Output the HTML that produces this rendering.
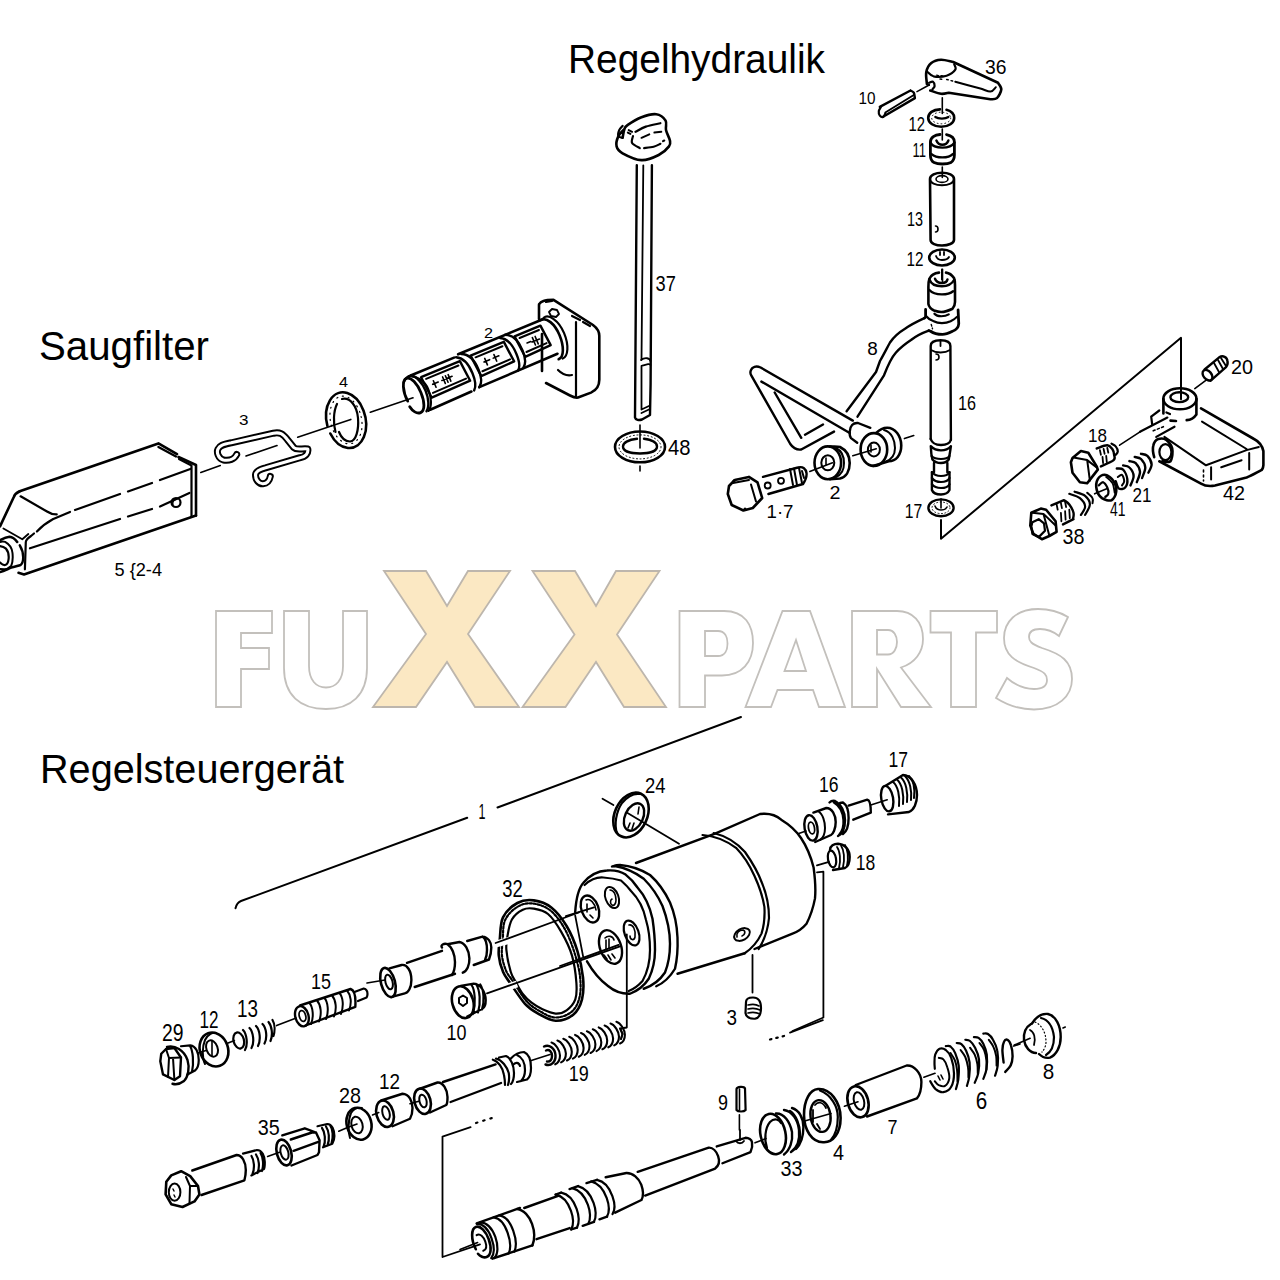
<!DOCTYPE html>
<html><head><meta charset="utf-8">
<style>
html,body{margin:0;padding:0;background:#fff;width:1280px;height:1280px;overflow:hidden}
svg{display:block}
.t{font-family:"Liberation Sans",sans-serif;font-size:40px;fill:#000;stroke:none}
.n{font-family:"Liberation Sans",sans-serif;font-size:20px;fill:#000;stroke:none}
</style></head><body>
<svg width="1280" height="1280" viewBox="0 0 1280 1280">
<!-- WATERMARK -->
<g id="wm" fill="none" stroke="#c3c0bc" stroke-width="1.8" stroke-linejoin="miter">
<path d="M216,611H272V633H241V648H269V669H241V707H216Z"/>
<path d="M284,611H309V666C309,680 316,687.5 326,687.5C336,687.5 343,680 343,666V611H367V668C367,695 351,709 326,709C300,709 284,695 284,668Z"/>
<path fill="#fbe8c3" stroke="#bdb6ad" d="M384,571H426L447,606L468,571H510L468,634L519,707H475L447,662L416,707H373L426,634Z"/>
<path fill="#fbe8c3" stroke="#bdb6ad" d="M532.5,571H575L596,606L616,571H659.5L617,634.5L666,707H624L596,662L565.5,707H522.5L574.5,634.5Z"/>
<path d="M679.5,611H724C745,611 753,625 753,643C753,662 742,675.5 722,675.5H705V707H679.5ZM705,631V656H718C725,656 727.5,650 727.5,643.5C727.5,637 725,631 718,631Z"/>
<path d="M745.5,707L782.5,611H810L845,707H819L813,690H777.5L771,707ZM796,640L784.5,671H806Z"/>
<path d="M852,611H897C913,611 923,622 923,639C923,652 915,663 901,667.5L931,707H901L877,669V707H852ZM877,630V654.5H888C894,654.5 897,648 897,642C897,636 894,630 888,630Z"/>
<path d="M930.5,611H997V632.5H976V707H951V632.5H930.5Z"/>
<path d="M1068,617C1058,611 1048,609 1038,609C1016,609 1004,622 1004,638C1004,655 1015,662 1034,668C1045,672 1047,675 1047,680C1047,686 1042,689 1034,689C1024,689 1015,685 1007,678L996,698C1007,705 1020,709.5 1034,709.5C1058,709.5 1072,696 1072,679C1072,661 1061,654 1042,648C1031,644 1029,641 1029,637C1029,632 1033,629 1040,629C1046,629 1054,632 1059,636Z"/>
</g>
<!-- TITLES -->
<text class="t" x="568" y="73" textLength="257" lengthAdjust="spacingAndGlyphs">Regelhydraulik</text>
<text class="t" x="39" y="360" textLength="170" lengthAdjust="spacingAndGlyphs">Saugfilter</text>
<text class="t" x="40" y="783" textLength="304" lengthAdjust="spacingAndGlyphs">Regelsteuergerät</text>
<!-- DRAWING -->
<g id="draw" fill="none" stroke="#000" stroke-width="2.2" stroke-linecap="round" stroke-linejoin="round">
<!--SAUG-->
<!-- SAUGFILTER housing 5 -->
<g id="housing">
<path stroke-width="2.6" d="M19.7,491.3L158.4,443.4L177,454.2M178.5,457L196,465V515.6"/>
<path d="M158.4,447L176,456.5M179,459L191.5,465.5V516"/>
<path stroke-width="2.6" d="M19.7,491.3C16,493 14.5,495 13.7,497.2L0,526.4"/>
<path d="M20.6,496.3L47,511.5C50,513.5 53,514.5 56.7,514.4"/>
<path d="M53.3,519L70,512M75,510L120,494M128,491.5L152,483M160,480L190.3,469"/>
<path d="M52.4,519.5C46,523 41,527 36.9,531.5M34,533.5L31,536C28,538 26,540 25.8,542L24.9,569.3"/>
<path stroke-width="1.8" d="M3.4,528.5L22.3,539.3L28.35,534"/>
<path d="M30,548.3L120,519M128,516.5L152,509M160,506.5L189.4,493"/>
<path stroke-width="2.6" d="M0,540.1C3,538.5 6,537 9.45,536.7C13,537 15.5,539.5 17.2,541.9"/>
<path stroke-width="2.4" d="M19.8,545.3C22,549 23.2,553 23.2,557.3C23.2,561 22,564 20.6,565C17,566 14,567 11.2,567.6C8,569 5,570.5 3.4,571L0,572"/>
<path stroke-width="2" d="M0,541.9C2,541.5 3.5,541.5 5.15,541.9C9,544 12,548 12.5,553C13,558 12.5,563 11.2,566C9,568 6.5,569.3 4.3,569.3L0,569"/>
<path stroke-width="2.2" d="M0,546.2C2,546.5 4,547 6,548.7C8,551 9,555 8.6,559C8.3,562 7,564.5 5.15,565C3,565.5 1.5,564 0,562.5"/>
<path stroke-width="2.6" d="M18.5,572.8L24,574.5L196,515.6"/>
<ellipse cx="176" cy="502.5" rx="4.5" ry="4.5"/>
<path stroke-width="1.4" d="M173,505C172,502 174,499 177,499"/>
</g>
<text class="n" x="114.5" y="575.6" textLength="47.5" lengthAdjust="spacingAndGlyphs" style="font-size:18px">5 {2-4</text>
<!-- axis line -->
<path stroke-width="1.6" d="M200.8,472.5L220.3,465.5M246,456L277,445.6M297.7,437.3L350.8,419.4M370.3,412.3L413,397.8"/>
<!-- clip 3 -->
<path stroke-width="7" d="M236.7,454.5C234.4,459.2 229,461 223.4,460C218,458.5 216.5,452 218,449C219.5,446 222,444.5 231.25,442.8L273.4,433.2C279.7,432 282.8,433.4 287.5,439.7L293.75,447.5C296.9,450.6 303,448 307.8,449C308.5,453.5 305.5,457 300,457.7L265.6,467.8C259,469.4 255.7,472 255.5,475C255.5,480 259,484 263,483.8C267,483.5 269.5,480.5 270.3,476.4"/>
<path stroke="#fff" stroke-width="3.1" d="M236.7,454.5C234.4,459.2 229,461 223.4,460C218,458.5 216.5,452 218,449C219.5,446 222,444.5 231.25,442.8L273.4,433.2C279.7,432 282.8,433.4 287.5,439.7L293.75,447.5C296.9,450.6 303,448 307.8,449C308.5,453.5 305.5,457 300,457.7L265.6,467.8C259,469.4 255.7,472 255.5,475C255.5,480 259,484 263,483.8C267,483.5 269.5,480.5 270.3,476.4"/>
<text class="n" x="239" y="425" textLength="9.5" lengthAdjust="spacingAndGlyphs" style="font-size:15.5px">3</text>
<!-- ring 4 -->
<path stroke-width="2.6" d="M330.3,433.5A19.5,28.2 -13 1 0 327.4,425.8"/>
<path stroke-width="2.2" d="M335.5,432C333,423 333.5,411 337,404M342,399C350,397 357,406 358,418C359,430 356,441 350,441.5C345,441.5 341,437 339,432"/>
<ellipse cx="346" cy="420" rx="15.5" ry="24.2" transform="rotate(-13 346 420)" stroke-width="1.2" stroke-dasharray="1 5"/>
<text class="n" x="339" y="386.5" textLength="9" lengthAdjust="spacingAndGlyphs" style="font-size:15.5px">4</text>
<!-- filter 2 -->
<g id="filter">
<g transform="translate(413.5 395.5) rotate(-22.5)">
<path stroke-width="2.8" d="M-7.5,3C-8.5,-8 -5,-18.5 0,-18.5C5,-18.5 8,-9 8,0C8,10 5,18.5 0,18.5C-4,18.5 -7,14 -7.8,9"/>
<path stroke-width="2.4" d="M-4,-16C-1,-19 3,-20 5,-19.5C10,-17 13,-8 13,0C13,9 10,17 6,19.5"/>
<path stroke-width="2.2" d="M3,-19.5C9,-18 16,-10 16,0C16,10 12,18 8,20"/>
<path stroke-width="2.6" d="M5,-19.5L52,-19.5M57,-21L150,-21M10,19.5L55,18.5M64,17.5L149,16.5"/>
<path stroke-width="2.4" d="M14,-14L56,-14L58,8L16,9Z"/>
<path stroke-width="2" d="M18,-10.5L53,-10.5M19,5L55,4.5"/>
<path stroke-width="2.4" d="M54,-19C60,-16 63,-8 63,2C63,10 61,16 58,18.5M60,-20C67,-17 70,-9 70,1C70,9 68,15 64,17.5"/>
<path stroke-width="2.4" d="M68,-15L104,-15L106,7L70,8Z"/>
<path stroke-width="2" d="M72,-11.5L101,-11.5M73,4L103,3.5"/>
<path stroke-width="2.4" d="M102,-20C108,-17 111,-9 111,1C111,9 109,15 106,17M108,-21C115,-18 118,-10 118,0C118,8 116,14 112,16.5"/>
<path stroke-width="2.4" d="M116,-16L144,-16L146,6L118,7Z"/>
<path stroke-width="2" d="M120,-12.5L141,-12.5M121,3L143,2.5"/>
<path stroke-width="1.6" d="M24,-6V1M22,-3L28,-3M34,-6V1M37,-6V1M40,-6V1M32,-3L43,-3M80,-7V0M78,-4L84,-4M88,-4L94,-4M90,-7V0M125,-5L129,-5M132,-8V0M135,-8V0M130,-4L138,-4"/>
<path stroke-width="2.6" d="M146,-21C153,-22 158,-12 158,0C158,12 154,22 148,22"/>
<path stroke-width="2.2" d="M150,-22C156,-24 163,-14 163,0C163,13 158,23 152,23"/>
</g>
<path stroke-width="2.6" d="M539,304.4C541,301 544,300 553.5,299.9L593,325C597,328 599.3,331 599.3,335.8V379.8C599.3,386 597,390 591,392.6L578,397.5C575,398 573,397 570,395.5L546,383M542,371V334M539,319V304.4"/>
<path d="M546,302L552,301M576,322V396M572,316L580,320M583,322L590,326"/>
<path d="M558,370C562,374 567,376 572,375"/>
<path stroke-width="1.8" d="M549,312L552,309L557,310L559,314L556,317L551,316Z"/>
</g>
<text class="n" x="484" y="338" textLength="9" lengthAdjust="spacingAndGlyphs" style="font-size:15.5px">2</text>

<!--/SAUG-->
<!--HYD-->
<!-- dipstick 37 -->
<path stroke-width="2.6" d="M624.4,129.2C623.4,130.4 619.6,133.2 618.4,136.1C617.1,138.9 615.9,143.5 616.6,146.4C617.3,149.3 618.5,151.0 622.6,153.3C626.8,155.6 635.5,159.9 641.5,160.1C647.6,160.4 654.1,157.3 658.7,155.0C663.3,152.7 667.2,148.8 669.0,146.4C670.9,144.0 670.4,143.1 669.9,140.4C669.4,137.7 666.7,133.4 666.0,130.1C665.3,126.8 667.2,123.3 665.6,120.6C664.0,118.0 660.2,114.7 656.2,114.2C652.1,113.6 646.3,115.4 641.5,117.2C636.8,119.0 630.7,122.9 627.8,124.9C624.9,126.9 625.2,127.1 624.4,129.2C623.5,131.4 622.9,136.4 622.6,137.8"/>
<path stroke-width="2.2" d="M622.6,125.8C622.1,126.5 619.9,128.4 619.2,130.1C618.5,131.8 617.8,134.8 618.4,136.1C618.9,137.4 621.9,137.5 622.6,137.8"/>
<path stroke-width="2.2" d="M635.5,131.8C637.3,130.9 641.7,128.1 645.8,126.6C650.0,125.2 658.0,123.8 660.4,123.2"/>
<path stroke-width="2.0" d="M641.5,137.8L649.3,134.4M654.4,132.6L661.3,131.8M628.7,130.1L632.1,131.8M627.8,132.6L630.4,133.9M663.0,141.2L664.3,140.5"/>
<path stroke-width="2.2" d="M633.0,136.1C632.8,137.2 631.0,141.0 632.1,143.0C633.2,145.0 638.5,147.3 639.8,148.1M644.1,148.1C645.7,147.9 650.9,147.5 653.6,146.8C656.3,146.1 659.3,144.3 660.4,143.8"/>
<path stroke-width="2.4" d="M636.8,165.3L635,417.5C635.5,420 639,420.5 642,419.5L650,415L650.6,384L651.9,165.3"/>
<path stroke-width="1.8" d="M643.3,165.3L641.5,360M641.5,366V409.5M641,360C645,357 650,358 650.5,361M641.5,366C645,365 650,363 650.5,365M641.5,409.5L650,405.5M641.5,413L650,409"/>
<text class="n" x="655.5" y="291.3" textLength="20.3" lengthAdjust="spacingAndGlyphs" style="font-size:21.5px">37</text>
<!-- ring 48 -->
<path stroke-width="1.6" d="M640,425V448M640,466V471"/>
<ellipse cx="640" cy="446.9" rx="25" ry="15.4" stroke-width="2.6"/>
<path stroke-width="2.4" d="M637,438.8C628,439.5 623,443 623,446.5C623,451 630,453.5 640,453.5C650,453.5 657,451 657,446.5C657,443 652,440 644,438.8"/>
<ellipse cx="640" cy="446.9" rx="21" ry="12" stroke-width="1" stroke-dasharray="1 2.6"/>
<text class="n" x="668" y="454.5" textLength="22.5" lengthAdjust="spacingAndGlyphs" style="font-size:21.5px">48</text>
<!-- lever 36 -->
<path stroke-width="2.6" d="M926.9,83.9C926.8,81.9 925.6,75.3 926.3,71.9C927.1,68.4 928.8,65.1 931.3,63.1C933.7,61.1 937.5,60.0 941.1,59.8C944.8,59.7 951.1,61.7 953.2,62.0M953.2,62.0L998.0,82.8M998.0,82.8C998.6,83.9 1001.5,86.8 1001.3,89.4C1001.1,91.9 998.7,96.5 996.9,98.1C995.1,99.8 991.4,99.1 990.4,99.2M990.4,99.2L948.8,92.7M948.8,92.7C947.5,92.9 944.2,94.1 941.1,93.8C938.0,93.4 932.0,91.0 930.2,90.5"/>
<path stroke-width="2.2" d="M927.4,71.9C928.4,72.6 930.3,75.6 933.5,76.3C936.6,76.9 942.9,76.8 946.6,75.7C950.2,74.6 954.1,71.6 955.3,69.7C956.6,67.8 954.4,65.1 954.2,64.2"/>
<path stroke-width="2.0" d="M955.3,81.7C959.4,82.8 973.6,86.7 979.4,88.3C985.2,89.9 987.6,91.8 990.4,91.6C993.1,91.4 994.9,87.9 995.8,87.2"/>
<path stroke-width="1.4" d="M936.7,75.2L938.4,75.7M941.1,75.7L942.8,76.0M940.0,79.0L941.7,79.3M946.6,79.5L948.2,79.8M951.0,80.6L952.6,81.0"/>
<path stroke-width="2.2" d="M929.1,82.8C929.7,82.6 932.0,81.2 932.9,81.7C933.8,82.3 934.6,84.8 934.6,86.1C934.5,87.4 932.7,88.8 932.4,89.4"/>
<path stroke-width="2.0" d="M926.9,83.9L929.1,85.0"/>
<path stroke-width="2.4" d="M879.8,106.9L910.5,90.5M910.5,90.5C911.0,90.8 913.0,91.4 913.8,92.7C914.5,93.9 914.7,97.2 914.9,98.1M914.9,98.1L883.1,116.7"/>
<path stroke-width="2.2" d="M880.9,106.9C880.6,107.6 878.9,109.8 878.8,111.3C878.6,112.7 879.1,114.7 879.8,115.6C880.6,116.6 882.2,117.3 883.1,117.0C884.0,116.6 885.0,114.0 885.3,113.5"/>
<path stroke-width="1.8" d="M885.3,112.4L913.8,94.9"/>
<path stroke-width="1.6" d="M917.0,91.6L929.1,85.0"/>
<path stroke-width="1.6" d="M942.3,97.8V113.4M942.3,129V140M942.3,167V177.5"/>
<text class="n" x="858.5" y="104.3" textLength="17" lengthAdjust="spacingAndGlyphs" style="font-size:17px">10</text>
<text class="n" x="985" y="73.8" textLength="21.5" lengthAdjust="spacingAndGlyphs" style="font-size:19.5px">36</text>
<!-- washer 12 top -->
<path stroke-width="2.6" d="M940,109.4C933,109.6 928.2,113 928.2,118C928.2,123 934,126.8 941.2,126.8C948.5,126.8 954.2,123 954.2,118C954.2,114 951,111 946.5,109.8"/>
<path stroke-width="2.2" d="M935.3,117C937,118.2 939.5,118.6 941.9,118.6C944.5,118.6 947,118 948.4,117"/>
<ellipse cx="941.2" cy="118" rx="9.5" ry="5.8" stroke-width="1" stroke-dasharray="0.8 3"/>
<text class="n" x="908.5" y="130.8" textLength="16.5" lengthAdjust="spacingAndGlyphs" style="font-size:20px">12</text>
<!-- bushing 11 -->
<path stroke-width="2.8" d="M940,134.5C935,134.8 930.4,137.5 930.4,142V155C930.4,159 932,161.5 934,162.5C936.5,163.7 939.5,164 942.4,164C946,164 949,163.5 951,162.5C953,161 954.4,158 954.4,155V142C954.4,138 951,135.5 946.5,134.6"/>
<path stroke-width="2.4" d="M930.4,142.6C932,145.5 937,147.6 942.4,147.6C948,147.6 952.5,145.5 954.4,142.6M931.5,154.1C934,156.4 938,157.4 942.4,157.4C947,157.4 950.5,156.4 952.8,154.1"/>
<path stroke-width="2.4" d="M936.4,140.5C937.5,143.3 939.7,144.8 942.4,144.8C945,144.8 947.4,143.3 948.4,140.5"/>
<text class="n" x="912.5" y="157.2" textLength="13.5" lengthAdjust="spacingAndGlyphs" style="font-size:20px">11</text>
<!-- tube 13 -->
<path stroke-width="2.6" d="M930,179C930,175 935.5,172.8 942,172.8C948.5,172.8 954,175 954,179V240C954,243.5 948,245.5 942,245.5C936,245.5 930.6,243.5 930.6,240Z"/>
<path stroke-width="2" d="M930,179C930,183 935.5,185.2 942,185.2C948.5,185.2 954,183 954,179"/>
<ellipse cx="942" cy="179" rx="6" ry="3.4" stroke-width="1.6"/>
<path stroke-width="1.6" d="M935.5,226C937,226 938,227.5 938,229C938,231 937,232 935.5,232"/>
<text class="n" x="907" y="226.3" textLength="16" lengthAdjust="spacingAndGlyphs" style="font-size:20px">13</text>
<!-- washer 12 lower -->
<ellipse cx="942" cy="257.5" rx="12.8" ry="8" stroke-width="2.6"/>
<path stroke-width="1.8" d="M936,256C937,259 939,260 942,260C946,260 948,259 949,257M940,252L940,255M944,252L944,255"/>
<text class="n" x="906.5" y="265.8" textLength="17" lengthAdjust="spacingAndGlyphs" style="font-size:20px">12</text>
<path stroke-width="1.6" d="M942.5,269.4V283"/>
<!-- bushing -->
<path stroke-width="2.6" d="M939,272.6C935,273 931,275 929.4,278.75C928.6,281 928.4,284 928.4,287V304C929,307 931,309 934,310.5C937,311.5 939,312 941.25,312C945,312 949,310.5 952.5,308.75C954,307 955,305 955,302V285C955,281 954.4,279 954,278C952,275 949,273 946,272.6"/>
<path stroke-width="2.4" d="M929.4,279.5C931,284 936,286.25 941.9,286.25C947,286.25 952,284 954.4,279.5M929.4,290C932,293 937,294.4 941.9,294.4C947,294.4 951,293 953.1,291.25"/>
<path stroke-width="2.4" d="M935,278.75C936,281.5 938.5,283 941.9,283C945,283 947,281.5 947.5,279.4"/>
<path stroke-width="1.8" d="M941.9,269.4V279.4"/>
<!-- lever 8 hub -->
<path stroke-width="2.8" d="M925.6,309.4V316.9C925,318 924.5,318 924.4,318.1M958.1,310L958.75,323.75C958.5,327 956,330 952.5,331.25C949,333 945,334.4 942.5,334.4C937,334.4 933,333 930.6,331.25L928.75,330.6"/>
<path stroke-width="2.2" d="M926.25,316.25C928,318.5 931,320.5 933.75,321.25C936,322.5 939,323.1 941.9,323.1C945,323.1 948,322.5 950.6,321.25C953,320 955.5,318.5 956.9,316.9"/>
<path stroke-width="2.2" d="M934.4,313.75C936,315.5 938.5,316.25 941.25,316.25C944,316.25 947,315.5 948.75,314.4"/>
<path stroke-width="1.4" stroke-dasharray="1.8 2" d="M931.25,324.4L932.5,328.8"/>
<!-- lever 8 arm -->
<path stroke-width="2.4" d="M924.4,318.1C916,322 910,325 905,328.75C898,333 893,338 890,342.5C887,348 884,354 880,361L876,372L846.6,411.25"/>
<path stroke-width="2.4" d="M928.75,330.6C922,333 916,336 911,340C905,344 900,348 896,352.5C891,358 888,365 884,375.3L857.5,416.7"/>
<!-- triangle loop -->
<path stroke-width="2.4" d="M852.8,420.6L760.6,367.5C756,365.5 752,367 751,370C750,372 750.5,374 751.25,375.3L790.3,444C793,448 797,450 801.25,449.5L834,431.6"/>
<path stroke-width="2.4" d="M761.4,381.6L849.7,433M774.7,392.5L801.25,437.8M805,434.7L823,424.5"/>
<!-- lever end boss -->
<path stroke-width="2.4" d="M870.3,427.8L858,423C853,422.5 850,426 849.7,431.6C849.5,435 850,437 851,438.1L857.2,442.8"/>
<!-- roller right -->
<ellipse cx="873.9" cy="449.5" rx="13.3" ry="16.4" stroke-width="2.6"/>
<path stroke-width="2.6" d="M876.25,433C880,429 884,427.7 887.2,427.7C895,427.7 901.25,436 901.25,445.6C901.25,455 896,461.25 888.75,461.25L873,465.9"/>
<path stroke-width="2" d="M884,430C892,432 895,441 895,448C895,455 891,460 885,462"/>
<ellipse cx="873.9" cy="449.5" rx="6" ry="7" stroke-width="2"/>
<path stroke-width="1.6" d="M852.8,455.8L876.25,448.75M904.4,438.6L913.75,435.5M871,445V452"/>
<!-- roller 2 -->
<ellipse cx="827.8" cy="462.8" rx="13.3" ry="16.4" stroke-width="2.6"/>
<path stroke-width="2.6" d="M830,446.6C834,446.4 838,446.4 840,447C846,450 849.7,456 849.7,463C849.7,471 846,477 840,478.5L830,479.2"/>
<path stroke-width="2" d="M836,448C842,451 844,457 844,463C844,470 841,475 836,477"/>
<ellipse cx="827.8" cy="462.8" rx="6.5" ry="7.5" stroke-width="2"/>
<path stroke-width="1.6" d="M809.8,471.4L832.5,462.8M826,458V465"/>
<!-- bolt 1.7 -->
<path stroke-width="2.6" d="M734.8,480L748.9,476.9L757.5,482.3L762.2,498L752.8,508L743.4,510.5L731.7,505L727.8,494L729,486Z"/>
<path stroke-width="2" d="M751,484.5L756,501.5M733,483L749,480"/><circle cx="734" cy="481" r="0.8" stroke-width="1.5"/><circle cx="745" cy="509" r="0.8" stroke-width="1.5"/>
<path stroke-width="2.4" d="M763,476.9L798,467.5M768.4,494L803,484M798,467.5C803,466 806,469 806.5,473C807,477 805,481 803,484"/>
<path stroke-width="2" d="M790,469L793,485M794,468.5L797,485M799,468L802,483M802,471L804,478"/>
<circle cx="767.7" cy="485.5" r="3" stroke-width="1.8"/>
<circle cx="781" cy="480.8" r="3" stroke-width="1.8"/>
<text class="n" x="829.5" y="499" textLength="11" lengthAdjust="spacingAndGlyphs" style="font-size:18.5px">2</text>
<text class="n" x="766.5" y="517.7" textLength="27" lengthAdjust="spacingAndGlyphs" style="font-size:19px">1·7</text>
<text class="n" x="867.3" y="355.2" textLength="10.5" lengthAdjust="spacingAndGlyphs" style="font-size:18px">8</text>
<!-- rod 16 -->
<path stroke-width="2.4" d="M930.7,346C930.7,342 935,340.3 940.5,340.3C946,340.3 950.4,342 950.4,346L950.9,439.8M930.7,346V439"/>
<path stroke-width="1.8" d="M931,350C934,352 937,352.5 940.5,352.5C944,352.5 947,352 950,350M940.5,341V346"/>
<path stroke-width="1.6" d="M936,354C938,354 939,355.5 939,357C939,359 938,360 936,360"/>
<path stroke-width="2.4" d="M930.7,439C932,443 936,445 941,445C946,445 950,443 950.9,439.8"/>
<path stroke-width="2.4" d="M930.8,446.2C931,452 931.5,456 932.4,459.5C935,462.5 938,463 941,463C944,463 947,462 948.75,459.5C949.5,455 950.5,450 950.9,446.2M930.8,446.2C934,449.5 937,450.4 941,450.4C945,450.4 948,449.5 950.9,446.2"/>
<path stroke-width="2.2" d="M931.5,456C934,458.5 937,459 941,459C945,459 948,458.5 949.5,456"/>
<path stroke-width="2.4" d="M934,463V472.2M947.35,463V472.2M931.9,472.2V490C933,493 937,494.5 941,494.5C945,494.5 948,493 949.5,490V472.2"/>
<path stroke-width="2.2" d="M931.9,472.2C934,475 937,476 941,476C945,476 948,475 949.5,472.2M931.9,478C934,481 937,482 941,482C945,482 948,481 949.5,478M931.9,484.15C934,487 937,488 941,488C945,488 948,487 949.5,484.15"/>
<text class="n" x="958" y="410.3" textLength="18" lengthAdjust="spacingAndGlyphs" style="font-size:20px">16</text>
<!-- washer 17 -->
<ellipse cx="941" cy="507.8" rx="12.6" ry="8.4" stroke-width="2.4"/>
<path stroke-width="1.6" d="M935,506C936,509 938,510 941,510C944,510 946,509 947,507M941,499V508"/>
<ellipse cx="941" cy="507.8" rx="9" ry="5.8" stroke-width="0.9" stroke-dasharray="1 2.4"/>
<text class="n" x="904.8" y="518.2" textLength="17.5" lengthAdjust="spacingAndGlyphs" style="font-size:20px">17</text>
<path stroke-width="2" d="M941,520V538.8L1181,337.8V399.3"/>

<!--/HYD-->
<!--P42-->
<!-- part 42 block -->
<path stroke-width="2.6" d="M1163.4,399V413.5M1196.4,399V414.5C1194,418 1190,420 1186.7,420.1M1170.5,420.6L1176,421"/>
<ellipse cx="1179.9" cy="398.8" rx="16.6" ry="10.5" stroke-width="2.6"/>
<ellipse cx="1179.3" cy="397.2" rx="8.9" ry="4.9" stroke-width="2.4"/>
<path stroke-width="2.6" d="M1201,408.4L1254,439C1258,441 1262,445 1263.4,451.1V465C1263,469 1262,470 1260.9,470.4C1256,473 1251,476 1246.6,477.5L1215,485.5C1210,486.5 1205,486 1201,483.6L1159.3,461.25"/>
<path stroke-width="2" d="M1164.4,436.9L1206,465.3L1246.6,450.1L1258.8,447M1202,421.6L1246.6,449M1249.2,453V469.4M1211.1,467.3V479.5M1221.25,467.3L1241.6,460.2"/>
<path stroke-width="1.6" stroke-dasharray="2 3" d="M1203.5,470V481"/>
<path stroke-width="2.6" d="M1154.2,457.2C1153,453 1152.5,449 1153.2,446C1154,442 1156,439.5 1158.3,438.9C1162,438 1164.5,438.5 1166.4,440C1170,443 1172.5,447 1172.5,451.1C1172.5,456 1172,459 1170.5,461.25C1168,462.5 1165,462 1162.3,461.25"/>
<ellipse cx="1165.4" cy="452.1" rx="6" ry="8" stroke-width="2.2"/>
<path stroke-width="2.2" d="M1151.2,416.6L1159.3,410.5M1151.2,416.6L1152.2,424.7M1140,431.8L1167.4,417.6M1156.25,436.9L1174.5,426.7M1166.4,412.5L1170,414"/>
<path stroke-width="1.6" stroke-dasharray="2 2.5" d="M1153.2,430.8L1163.4,426.7"/>
<path stroke-width="1.6" d="M1194.8,388.6L1206.5,379.8M1140,431.8L1119.6,445.2"/>
<!-- pin 20 -->
<path stroke-width="2.4" d="M1204.6,369.5L1219.2,357.3C1223,355 1227,357 1227.5,361C1228,364 1227,366 1226,367.1L1210.4,380.8"/>
<ellipse cx="1207.5" cy="375.2" rx="4" ry="6" transform="rotate(-40 1207.5 375.2)" stroke-width="2.4"/>
<path stroke-width="1.8" d="M1214,363L1219,372M1218,360L1223,369M1221,358L1226,366"/>
<text class="n" x="1231" y="374.3" textLength="22" lengthAdjust="spacingAndGlyphs" style="font-size:20px">20</text>
<!-- bolt 18 -->
<path stroke-width="2.6" d="M1072.5,458.0L1080.9,451.1L1088.3,452.7L1096.7,466.4L1097.8,469.6L1090.4,479.1L1087.2,483.3L1079.9,482.2L1072.5,472.7L1070.9,462.2L1072.5,458.0"/>
<path stroke-width="2.0" d="M1073.5,457.4L1087.2,460.1L1096.7,467.5M1087.2,460.1L1089.9,480.7"/>
<path stroke-width="2.4" d="M1096.7,448.5C1098.5,448.0 1104.6,445.1 1107.3,445.3C1109.9,445.5 1111.4,448.0 1112.6,449.5C1113.7,451.1 1114.0,453.1 1114.1,454.8C1114.3,456.6 1115.8,458.2 1113.6,460.1C1111.4,462.0 1103.1,465.4 1100.9,466.4"/>
<path stroke-width="1.8" d="M1099.9,450.1L1100.9,454.8M1103.6,449.0L1104.6,453.8M1107.3,448.0L1108.3,452.7M1102.5,456.9L1103.1,463.2M1106.2,455.9L1106.8,462.2"/>
<path stroke-width="2.2" d="M1111.5,443.7C1112.2,444.2 1114.7,445.1 1115.7,446.4C1116.8,447.7 1117.8,450.2 1117.8,451.6C1117.8,453.1 1116.1,454.3 1115.7,454.8"/>
<path stroke-width="2.4" d="M1116.8,468.5C1117.8,468.7 1121.3,467.8 1123.1,469.6C1124.9,471.3 1127.0,476.1 1127.3,479.1C1127.7,482.1 1126.6,485.9 1125.2,487.5C1123.8,489.1 1120.5,489.6 1118.9,488.6C1117.3,487.5 1116.2,482.4 1115.7,481.2"/>
<path stroke-width="2.0" d="M1117.8,477.0C1118.5,476.6 1121.0,474.1 1122.0,474.9C1123.1,475.6 1124.2,479.4 1124.2,481.2C1124.2,482.9 1122.4,484.7 1122.0,485.4"/>
<path stroke-width="2.4" d="M1123.1,465.4C1124.2,465.7 1127.7,465.7 1129.4,467.5C1131.2,469.2 1133.5,472.9 1133.6,475.9C1133.8,478.9 1131.0,483.8 1130.5,485.4"/>
<path stroke-width="2.4" d="M1129.4,461.1C1130.5,461.5 1134.0,461.5 1135.8,463.2C1137.5,465.0 1139.8,468.5 1140.0,471.7C1140.2,474.9 1137.3,480.5 1136.8,482.2"/>
<path stroke-width="2.4" d="M1134.7,456.9C1135.8,457.3 1139.3,457.3 1141.0,459.0C1142.8,460.8 1145.1,464.3 1145.3,467.5C1145.4,470.6 1142.6,476.3 1142.1,478.0"/>
<path stroke-width="2.4" d="M1141.0,453.8C1142.1,454.1 1145.6,454.1 1147.4,455.9C1149.1,457.6 1151.4,461.5 1151.6,464.3C1151.8,467.1 1148.9,471.3 1148.4,472.7"/>
<path stroke-width="2.6" d="M1097.8,479.1C1099.2,476.6 1102.5,474.5 1105.2,474.9C1107.8,475.2 1111.8,478.4 1113.6,481.2C1115.5,484.0 1116.6,488.6 1116.2,491.7C1115.9,494.9 1113.9,499.1 1111.5,500.2C1109.1,501.2 1104.5,499.8 1102.0,498.1C1099.5,496.3 1097.4,492.8 1096.7,489.6C1096.0,486.5 1096.4,481.5 1097.8,479.1Z"/>
<path stroke-width="2.2" d="M1098.8,485.4C1099.5,484.9 1101.7,481.9 1103.1,482.2C1104.5,482.6 1106.4,485.6 1107.3,487.5C1108.2,489.4 1108.7,492.3 1108.3,493.8C1108.0,495.4 1105.7,496.5 1105.2,497.0"/>
<path stroke-width="1.8" d="M1106.2,477.0C1107.3,478.0 1111.1,480.7 1112.6,483.3C1114.0,485.9 1114.3,491.2 1114.7,492.8"/>
<path stroke-width="2.6" d="M1031.3,512.8L1040.8,508.6L1046.1,509.7L1055.6,521.3L1056.6,531.8L1049.3,536.0L1041.9,539.2L1033.4,533.9L1030.3,525.5L1031.3,512.8"/>
<path stroke-width="2.0" d="M1032.4,512.8L1043.5,513.9L1055.6,525.5M1043.5,513.9L1049.3,535.5"/>
<path stroke-width="2.2" d="M1032.4,522.3L1038.7,519.2L1044.0,523.4L1045.0,530.8L1038.7,537.1L1032.4,533.9L1031.3,526.5L1032.4,522.3"/>
<path stroke-width="2.4" d="M1051.4,505.4L1064.0,500.2M1064.0,500.2C1064.9,500.9 1067.7,502.3 1069.3,504.4C1070.9,506.5 1072.9,510.4 1073.5,512.8C1074.1,515.3 1073.1,518.1 1073.0,519.2M1073.5,519.2L1063.0,524.4"/>
<path stroke-width="1.8" d="M1056.6,504.4L1057.7,509.7M1060.9,502.8L1061.9,508.1M1065.1,501.8L1066.1,507.0M1060.9,512.8L1061.4,521.3M1065.1,511.2L1065.6,519.7M1069.3,509.7L1069.8,518.1"/>
<path stroke-width="2.2" d="M1069.3,493.8C1071.1,494.5 1077.2,495.9 1079.9,498.1C1082.5,500.2 1085.0,503.7 1085.1,506.5C1085.3,509.3 1081.6,513.5 1080.9,514.9"/>
<path stroke-width="2.2" d="M1074.6,491.7C1076.3,492.4 1082.6,493.8 1085.1,495.9C1087.7,498.1 1089.9,501.2 1089.9,504.4C1089.9,507.6 1085.9,513.2 1085.1,514.9"/>
<path stroke-width="2.0" d="M1087.2,492.8C1088.1,493.7 1091.6,496.3 1092.5,498.1C1093.4,499.8 1092.5,502.5 1092.5,503.3"/>
<path stroke-width="1.6" d="M1094.6,493.8L1107.3,488.6"/>
<text class="n" x="1088" y="441.5" textLength="19" lengthAdjust="spacingAndGlyphs" style="font-size:19px">18</text>
<text class="n" x="1132.5" y="501.5" textLength="19" lengthAdjust="spacingAndGlyphs" style="font-size:20px">21</text>
<text class="n" x="1110" y="516.2" textLength="15.5" lengthAdjust="spacingAndGlyphs" style="font-size:21px">41</text>
<text class="n" x="1062.5" y="543.6" textLength="22" lengthAdjust="spacingAndGlyphs" style="font-size:22.5px">38</text>
<text class="n" x="1223" y="500.3" textLength="22" lengthAdjust="spacingAndGlyphs" style="font-size:20px">42</text>

<!--/P42-->
<!--LOW1-->
<!-- bracket 1 -->
<path stroke-width="2" d="M235.5,908.2C236.5,904 238.5,902 241,901L467.2,817.8M497.5,807.5L741,717"/>
<text class="n" x="478.5" y="818.8" textLength="7" lengthAdjust="spacingAndGlyphs" style="font-size:22px">1</text>
<!-- washer 24 -->
<ellipse cx="631" cy="815" rx="16.2" ry="23.5" transform="rotate(25 631 815)" stroke-width="2.6"/>
<path stroke-width="2.2" d="M617,833C614,825 616,812 622,803C627,797 634,793 640,794"/>
<ellipse cx="634" cy="817" rx="9" ry="14.5" transform="rotate(25 634 817)" stroke-width="2.4"/>
<path stroke-width="1.6" d="M639,807L638,814M630,823L628,828M634,823L632,829"/>
<path stroke-width="1.8" d="M602.5,798.8L613.4,805M626.7,812.5L679,843.75"/>
<text class="n" x="645" y="792.8" textLength="20.5" lengthAdjust="spacingAndGlyphs" style="font-size:22.5px">24</text>
<!-- main cylinder -->
<g id="cyl">
<path stroke-width="2.4" d="M575.2,912C576,900 578,889 583.4,882.8C589,876 598,871 606.9,870.5C613,870 620,871 625.6,874.6C630,878 634,882 637.5,887.5C645,896 650,907 652.5,918.75C654,929 655,940 655,950C655,962 652,972 648.75,978.75C644,986 637,991 630,993.75C622,994 614,991 608,986C600,980 592,970 587,961.3"/>
<path stroke-width="2.2" d="M584.6,885C590,880 597,877 603.3,877.5C610,878 616,879 621,880.5C625,884 628,887 631,891C640,900 644,910 646,920C649,930 650,940 650,950C650,962 647,973 642.5,981C638,986 634,989 628.75,991"/>
<path stroke-width="2.4" d="M612,866.5C613,866 614,866 615,866C626,868 636,873 643.75,878.75C652,887 658,896 662.5,906C667,918 670,932 670,943.75C670,955 668,965 665,972.5C660,980 652,986 643.75,988.75"/>
<path stroke-width="2.4" d="M614,866C616,865 618,865 620,865C632,866 642,870 650,875C659,883 665,892 670,902.5C674,912 677,925 677.5,937.5C678,950 677,960 675,968.75C670,977 664,983 656.25,986.25"/>
<path stroke-width="2.4" d="M636,863L715.1,833.7M715.1,833.7L760,814C768,813 776,815 781.2,819.7C790,825 797,832 801,838C807,847 811,857 813.6,867.5C815,878 816,888 815,898.4C813,909 810,917 806.5,923.7C802,929 797,932 792.5,933.6L754.5,949"/>
<path stroke-width="2.4" d="M677.5,973.75L744.7,953.25"/>
<path stroke-width="2.2" d="M702.5,835C716,836 728,842 736,847.8C745,857 750,866 754.5,876C760,888 763,898 764.4,906.9C765,917 764,926 761.5,933.6C757,943 751,949 744.7,953.25"/>
<path stroke-width="2.2" d="M713.7,833C726,836 737,843 745,852C752,862 758,872 762,883C767,895 769,907 769,918C768,929 765,939 758.7,949"/>
<ellipse cx="742" cy="934.5" rx="8.5" ry="5.5" transform="rotate(-30 742 934.5)" stroke-width="2"/>
<path stroke-width="1.6" d="M737,937C736,933 739,930 743,930C746,931 745,935 742,936"/>
<!-- holes -->
<ellipse cx="590" cy="909" rx="8.5" ry="14" transform="rotate(-20 590 909)" stroke-width="2.4"/>
<path stroke-width="1.6" d="M586,900C590,898 595,903 596,910M587,904V912M590,915L593,918"/>
<ellipse cx="612" cy="897.5" rx="6.5" ry="11" transform="rotate(-20 612 897.5)" stroke-width="2"/>
<path stroke-width="1.6" d="M610,890C614,890 616,895 616,900C616,904 614,906 612,905C610,904 610,900 612,899"/>
<ellipse cx="610.5" cy="947" rx="10.5" ry="17.5" transform="rotate(-20 610.5 947)" stroke-width="2.4"/>
<path stroke-width="1.6" d="M605,938C608,935 613,936 614,940M606,940V950M609,939V948M608,955L611,960M612,954L615,958M604,955L607,959"/>
<ellipse cx="631.6" cy="933" rx="7" ry="13" transform="rotate(-20 631.6 933)" stroke-width="2.2"/>
<path stroke-width="1.6" d="M629,925C633,924 636,930 635,937C634,941 630,940 630,936"/>
<path stroke-width="1.8" d="M565.9,916.2L594,907.4M560,966L618.6,944.9M575.2,915.6L583.4,957.8L618.6,944.9M626.8,934.3V1027.5L620.5,1028.5L622.5,1034L621,1039"/>
</g>
<!-- gasket 32 -->
<path stroke-width="2.6" d="M499.8,939.2C500.5,932.8 500.1,923.4 503.0,917.4C505.9,911.4 512.3,905.8 517.4,903.0C522.5,900.2 528.1,899.6 533.8,900.4C539.4,901.1 545.8,903.2 551.3,907.5C556.8,911.8 562.2,918.7 566.6,926.0C571.0,933.3 574.8,942.7 577.5,951.3C580.2,959.9 582.2,969.5 583.0,977.5C583.8,985.5 583.6,993.2 582.0,999.4C580.4,1005.6 577.6,1011.2 573.2,1014.7C568.8,1018.2 561.5,1020.9 555.6,1020.7C549.8,1020.5 543.2,1016.4 538.1,1013.6C533.0,1010.8 529.5,1008.7 525.0,1003.8C520.5,998.9 514.5,989.3 510.8,984.0C507.2,978.7 505.1,976.7 503.1,972.0C501.1,967.3 499.3,961.1 498.8,955.6C498.2,950.1 499.1,945.6 499.8,939.2Z"/>
<path stroke-width="2.2" d="M507.5,936.0C508.4,930.9 509.3,923.9 511.9,919.5C514.4,915.1 519.1,911.5 522.8,909.7C526.4,907.9 529.6,907.9 533.8,908.6C538.0,909.3 543.5,910.2 548.0,914.0C552.5,917.8 557.1,924.7 561.1,931.6C565.1,938.5 569.5,947.0 572.0,955.6C574.5,964.2 575.9,975.7 576.4,983.0C576.9,990.3 576.9,994.9 575.3,999.4C573.7,1003.9 569.9,1007.9 566.6,1010.3C563.3,1012.7 559.6,1013.8 555.6,1013.6C551.6,1013.4 546.5,1011.1 542.5,1009.3C538.5,1007.5 534.9,1005.2 531.6,1002.7C528.3,1000.2 525.4,997.5 522.8,994.0C520.1,990.5 517.7,985.6 515.7,981.9C513.7,978.2 512.4,977.3 510.8,972.0C509.2,966.7 506.9,956.2 506.4,950.2C505.8,944.2 506.6,941.1 507.5,936.0Z"/>
<path stroke-width="2.2" stroke-dasharray="2.2 1.8" d="M502.7,940.7C503.3,934.7 502.5,925.6 505.2,919.9C507.8,914.1 513.8,908.7 518.7,906.1C523.5,903.4 528.9,902.9 534.2,903.7C539.5,904.5 545.6,906.6 550.7,910.7C555.7,914.9 560.7,921.7 564.6,928.6C568.5,935.5 571.7,944.1 574.3,952.1C576.8,960.0 579.1,968.7 580.0,976.2C580.8,983.7 581.0,991.2 579.6,997.1C578.2,1003.1 575.7,1008.5 571.5,1011.9C567.4,1015.3 560.4,1017.8 554.8,1017.5C549.3,1017.2 543.1,1013.1 538.3,1010.3C533.5,1007.5 530.3,1005.4 526.1,1000.7C522.0,996.0 516.7,986.9 513.4,981.9C510.1,977.0 508.1,975.3 506.2,971.0C504.4,966.7 502.6,961.0 502.0,955.9C501.4,950.9 502.2,946.7 502.7,940.7Z"/>
<path stroke="#fff" stroke-width="7" stroke-linecap="butt" d="M496,944L510,940M499,990L517,984"/>
<text class="n" x="502.3" y="897.4" textLength="20.5" lengthAdjust="spacingAndGlyphs" style="font-size:23px">32</text>
<path stroke-width="1.8" d="M495.6,943L578.75,912.5M487,993.4L620,946.4"/>
<!-- spool near 32 -->
<ellipse cx="388" cy="982.5" rx="7" ry="15" transform="rotate(-15 388 982.5)" stroke-width="2.6"/>
<ellipse cx="389" cy="982" rx="3.5" ry="7.5" transform="rotate(-15 389 982)" stroke-width="2"/>
<path stroke-width="2.4" d="M389.5,968.3L401.6,965C407,964 411.4,971 411.4,980C411.4,988 408,993 404.8,993.4L392.8,996.7"/>
<path stroke-width="1.6" d="M367,983L385,980"/>
<path stroke-width="2.4" d="M407,962.8L442,950.8M414.7,987L455,973.75"/>
<path stroke-width="2.4" d="M442,947.5C440,945 444,943 447.5,944.2L459.5,942C465,943 469,950 469.4,958.4C469.6,965 467,971 462.8,972.7M447.5,944.2C452,947 455,955 455,962C455,968 454,972 452,975"/>
<path stroke-width="2.4" d="M467.2,941L482.5,936.6C488,937 491.3,942 491.3,947.5C491.3,953 490,957 489,959.5L473.75,965M482.5,936.6C486,939 487,946 487,950C487,955 486,958 485,960"/>
<!-- plug 10 -->
<ellipse cx="462.8" cy="1002.2" rx="10.5" ry="16.2" transform="rotate(-15 462.8 1002.2)" stroke-width="2.6"/>
<path stroke-width="2.2" d="M460.6,985.8L473.75,983.6C481,984 485.8,993 485.8,1000C485.8,1006 484,1008 482.5,1008.75L467.2,1016.4M471.6,985C475,990 476,1004 473,1014M476,984C480,990 481,1003 478,1012.5M480.3,984.5C484,990 484.5,1002 482,1009.5"/>
<path stroke-width="2" d="M459,998L463,995.5L467,998L467,1003L463,1006L459,1003Z"/>
<text class="n" x="446.5" y="1039.6" textLength="20" lengthAdjust="spacingAndGlyphs" style="font-size:22px">10</text>
<!-- 16/17/18 -->
<ellipse cx="811" cy="827.9" rx="6.4" ry="12.9" transform="rotate(-10 811 827.9)" stroke-width="2.4"/>
<ellipse cx="811.5" cy="828" rx="3" ry="6" transform="rotate(-10 811.5 828)" stroke-width="1.8"/>
<path stroke-width="2.4" d="M813.4,812.6L826.3,808C832,808 835.7,815 835.7,822C835.7,829 833,834 831,835L815.2,842"/>
<path stroke-width="2" d="M818,811C823,814 825,822 825,828C825,834 823,838 820,840"/>
<path stroke-width="2.4" d="M829.5,802.5C831,801 833,800.3 835,801C841,804 845,812 845,820C845,828 842,834 838,836M834,802.5C840,806 843,813 843.5,820C844,827 842,832 839,835M840,803L843,802.5C847,805 848.6,812 848.6,818C848.6,826 846,832 843,834"/>
<path stroke-width="2.4" d="M848.6,805.6L867.3,799.7C870,800 870.8,806 870.8,812.6L853.3,819.7"/>
<path stroke-width="1.6" d="M798,833.7L806,831M870.8,805L887.2,799.7"/>
<ellipse cx="887.2" cy="798.6" rx="5.9" ry="12.9" transform="rotate(-10 887.2 798.6)" stroke-width="2.4"/>
<path stroke-width="2.4" d="M886,785.5L903,775C911,775 917,785 917,795C917,803 914,810 909,812L888,814.4"/>
<path stroke-width="2" d="M893,782C898,786 900,796 899,806M897,779.5C902,784 904,794 903,804M901,777.5C906,782 908,792 907,802M905,776C910,781 912,791 911,800M909,776C914,781 915,790 914,798"/>
<text class="n" x="819" y="792.3" textLength="19.5" lengthAdjust="spacingAndGlyphs" style="font-size:22.5px">16</text>
<text class="n" x="888.6" y="766.6" textLength="19.5" lengthAdjust="spacingAndGlyphs" style="font-size:22.5px">17</text>
<path stroke-width="2.4" d="M830,850C830,846 834,843.7 838,843.7C845,844 849.7,850 849.7,857C849.7,864 847,867 845,868L833,870"/>
<ellipse cx="832" cy="859" rx="4" ry="8.5" transform="rotate(-10 832 859)" stroke-width="2.2"/>
<path stroke-width="1.8" d="M837,847C840,851 841,860 839,868M841,845.5C844,850 845,859 843,867M845,845C848,850 848.5,858 847,866"/>
<text class="n" x="855.8" y="869.7" textLength="19.5" lengthAdjust="spacingAndGlyphs" style="font-size:22.5px">18</text>
<path stroke-width="1.8" d="M817,865.4L829,861.9M817,872.4L823.4,871.7V1017.5L792.5,1031"/>
<path stroke-width="2.2" stroke-dasharray="1.5 5" d="M770,1039.5L786,1035.5"/>
<!-- part 3 -->
<path stroke-width="1.8" d="M752.5,955V992.5"/>
<path stroke-width="2.2" d="M746,1002C746,999 749,997.5 753,997.5C758,997.5 761,1001 761,1008C761,1014 759,1018 755,1018.75C750,1019 746,1017 745.5,1013Z"/>
<path stroke-width="1.6" d="M748,1005C752,1004 756,1004 759,1006M748,1009C752,1008 756,1008 760,1010M748,1013C752,1012 756,1012 760,1014"/>
<text class="n" x="726.5" y="1025.2" textLength="10.5" lengthAdjust="spacingAndGlyphs" style="font-size:22.5px">3</text>

<!--/LOW1-->
<!--LOW2-->
<!-- part 15 -->
<ellipse cx="301.9" cy="1016.25" rx="6.6" ry="10.3" transform="rotate(-15 301.9 1016.25)" stroke-width="2.4"/>
<ellipse cx="302.5" cy="1016" rx="3.2" ry="5.5" transform="rotate(-15 302.5 1016)" stroke-width="1.8"/>
<path stroke-width="2.4" d="M300,1005.5L350.6,989M305.6,1025.5L355.3,1006.9M350.6,989C354,990 356,996 355.3,1006.9"/>
<path stroke-width="2" d="M309.4,1003C313,1007 314,1017 311,1024M317,1000.5C321,1005 322,1014 319,1021.5M324.4,998C328,1002 329,1012 326,1019M332,995.5C336,1000 337,1009 334,1016.5M339.4,993C343,997 344,1006 341,1014M347,990.5C351,995 352,1003 349,1010.5"/>
<path stroke-width="2.2" d="M354.4,992L363.75,988.5C366,989 367.5,991 367.5,994C367.5,996 366.6,997.5 366.6,997.5L358,1001"/>
<path stroke-width="1.6" d="M276.6,1025.6L296.25,1018"/>
<text class="n" x="311" y="989.2" textLength="20" lengthAdjust="spacingAndGlyphs" style="font-size:21.5px">15</text>
<!-- spring 13 -->
<ellipse cx="238.75" cy="1040.5" rx="5.2" ry="8.2" transform="rotate(-15 238.75 1040.5)" stroke-width="2.2"/>
<path stroke-width="2.2" d="M243,1030C247,1034 248,1045 245,1050M249.5,1028C253.5,1032 254.5,1043 251.5,1048M256,1026C260,1030 261,1040 258,1046M262.5,1024C266.5,1028 267.5,1038 264.5,1043.5M268.5,1022C272,1026 273,1035 270.5,1041M272.5,1020C275,1024 275,1031 273.5,1036"/>
<text class="n" x="237" y="1017.2" textLength="21" lengthAdjust="spacingAndGlyphs" style="font-size:23px">13</text>
<!-- washer 12 -->
<ellipse cx="214" cy="1049.5" rx="14" ry="17.3" transform="rotate(-20 214 1049.5)" stroke-width="2.6"/>
<path stroke-width="2" d="M205,1064C202,1058 202,1047 205,1040C208,1034 213,1032 216,1033"/>
<ellipse cx="212" cy="1048.5" rx="5.6" ry="8.4" transform="rotate(-20 212 1048.5)" stroke-width="2"/>
<path stroke-width="1.6" d="M198.75,1052.8L206,1050.5M226.9,1043.4L234.4,1040.6M212,1041V1056"/>
<text class="n" x="199.6" y="1027.7" textLength="19" lengthAdjust="spacingAndGlyphs" style="font-size:23px">12</text>
<!-- plug 29 -->
<path stroke-width="2.4" d="M161.25,1053.75L166,1049L174.4,1048L181,1057.5L180,1076.25L174.4,1080L163,1074.4L160.3,1061.25Z"/>
<path stroke-width="2" d="M166,1049L169,1058L181,1057.5M169,1058L168,1077M174.4,1080L173,1058"/>
<path stroke-width="2.4" d="M167,1047C175,1045 184,1050 187.5,1060C190,1068 188,1077 184,1081C180,1084 175,1084.5 172.5,1083.75"/>
<path stroke-width="2.2" d="M181,1046.25L190.3,1045.3C196,1046 198.75,1053 198.75,1060C198.75,1066 197,1069 195,1070.6L187.5,1074.4M190,1046C193,1051 194,1062 192,1072"/>
<text class="n" x="162" y="1040.8" textLength="21.5" lengthAdjust="spacingAndGlyphs" style="font-size:23px">29</text>
<!-- bolt 35 -->
<path stroke-width="2.6" d="M166.3,1181.7L171.25,1175.4L181.1,1171.2L190.2,1176.1L198,1186L199.4,1194.4L194.5,1201.4L182.5,1207L171.25,1204.2L165.6,1194.4Z"/>
<path stroke-width="2" d="M186,1177L190,1186L189.5,1203M190,1186L198,1186"/>
<ellipse cx="174.6" cy="1192.2" rx="5.8" ry="8.6" stroke-width="2"/>
<path stroke-width="1.4" d="M173,1189L174,1191M174,1195L175,1197"/>
<path stroke-width="2.4" d="M192.3,1170.5L236.6,1155C242,1155 245.8,1162 245.8,1170C245.8,1175 245,1178 244.4,1180.3L201.5,1195"/>
<path stroke-width="2.2" d="M243,1153.6L257,1150C262,1150 264.8,1156 264.8,1162C264.8,1166 264.5,1168 264,1169L251.4,1175.4M251.5,1156C254,1160 255,1168 252.5,1174M256,1154.5C259,1159 260,1167 257.5,1173M260.5,1153C263,1157 264,1165 262,1171"/>
<path stroke-width="1.6" d="M267.6,1156.4L279.5,1152.2"/>
<!-- nut 35 -->
<ellipse cx="284" cy="1152.5" rx="7.2" ry="13.2" transform="rotate(-15 284 1152.5)" stroke-width="2.6"/>
<ellipse cx="284.5" cy="1152.5" rx="3.8" ry="7.4" transform="rotate(-15 284.5 1152.5)" stroke-width="2"/>
<path stroke-width="2.4" d="M282.3,1135.3L304.8,1128.3L316,1132.5L319.6,1140.2L319,1152.2L317.5,1155L291.5,1165.5M290.8,1139.5L311.9,1132.5L316,1132.5M293.6,1150.8L319,1141.6"/>
<path stroke-width="2.2" d="M317.5,1126.2L327.3,1124C332,1124 334.4,1130 334.4,1136C334.4,1140 333,1142.5 332.3,1143.75L323,1147.3M322,1128C325,1132 326,1141 323.5,1147M326,1126.5C329,1131 330,1139 327.5,1145.5M330,1125C333,1129 333.5,1137 331.5,1143.5"/>
<text class="n" x="257.7" y="1135.2" textLength="22" lengthAdjust="spacingAndGlyphs" style="font-size:22px">35</text>
<path stroke-width="1.6" d="M338.75,1131.25L347.5,1127.5"/>
<!-- washer 28 -->
<ellipse cx="359" cy="1123.75" rx="12.3" ry="16.2" transform="rotate(-15 359 1123.75)" stroke-width="2.6"/>
<path stroke-width="2" d="M350,1138C348,1132 348,1120 351,1113C354,1108 358,1107 362,1108"/>
<ellipse cx="357" cy="1125" rx="5.5" ry="8.5" transform="rotate(-15 357 1125)" stroke-width="2"/>
<path stroke-width="1.6" d="M347.5,1127.5L357,1124"/>
<text class="n" x="339" y="1102.7" textLength="22" lengthAdjust="spacingAndGlyphs" style="font-size:22px">28</text>
<path stroke-width="1.6" d="M372.5,1115L378.75,1112.5"/>
<!-- bushing 12 -->
<ellipse cx="385" cy="1113.75" rx="8.5" ry="13.5" transform="rotate(-15 385 1113.75)" stroke-width="2.6"/>
<ellipse cx="386" cy="1113" rx="3.5" ry="7" transform="rotate(-15 386 1113)" stroke-width="2"/>
<path stroke-width="2.4" d="M381.25,1100.5L402.5,1093.75C409,1094 412.5,1101 412.5,1108C412.5,1114 411,1117 410,1118.75L392.5,1126.25"/>
<text class="n" x="379" y="1089.2" textLength="21" lengthAdjust="spacingAndGlyphs" style="font-size:21.5px">12</text>
<path stroke-width="1.6" d="M410,1103.75L418.75,1101.25"/>
<!-- shaft with spring 19 -->
<ellipse cx="422.5" cy="1101.25" rx="8" ry="13" transform="rotate(-15 422.5 1101.25)" stroke-width="2.6"/>
<ellipse cx="423" cy="1101" rx="3.5" ry="6.5" transform="rotate(-15 423 1101)" stroke-width="2"/>
<path stroke-width="2.4" d="M420,1088.75L437.5,1082.5C443,1082 447.5,1090 447.5,1097C447.5,1102 447,1104 446.25,1105L430,1112.5"/>
<path stroke-width="2.4" d="M443,1082L495.6,1064.4M450.6,1102L501,1083"/>
<path stroke-width="2.2" d="M492.8,1059.7C498,1061 503,1068 504,1075C505,1080 505,1084 505,1085M496,1058.5C502,1060 507,1067 508.75,1073C509.5,1078 509,1082 508,1085M499,1057.5L506,1056C511,1058 514,1066 514,1073C514,1079 513,1082 511,1084"/>
<path stroke-width="2.2" d="M510.6,1058.75C515,1054 520,1052 524,1052C529,1054 531,1061 531,1068C531,1074 529,1078 527,1079.5L517,1082M517,1055C522,1057 525,1063 525,1070C525,1076 523,1079 521,1081M513,1065C515,1062 519,1062 520,1066"/>
<path stroke-width="1.6" d="M531.25,1060.6L550,1054.5"/>
<path stroke-width="2.4" d="M544,1046.5C549,1044 555,1048 555.5,1055C556,1062 551,1066.5 545.5,1064.5M546,1050.5C549.5,1049 552,1052 552,1056C552,1060 550,1062 547,1061.5"/>
<path stroke-width="2.1" d="M551.5,1042.5C555.5,1043.5 560.0,1050.5 560.0,1055.5C560.0,1059.5 558.0,1063.0 555.2,1064.3M557.4,1040.6C561.4,1041.6 565.9,1048.6 565.9,1053.6C565.9,1057.6 563.9,1061.1 561.1,1062.4M563.3,1038.7C567.3,1039.7 571.8,1046.7 571.8,1051.7C571.8,1055.7 569.8,1059.2 567.0,1060.5M569.2,1036.8C573.2,1037.8 577.7,1044.8 577.7,1049.8C577.7,1053.8 575.7,1057.3 572.9,1058.6M575.1,1034.9C579.1,1035.9 583.6,1042.9 583.6,1047.9C583.6,1051.9 581.6,1055.4 578.8,1056.7M581.0,1033.1C585.0,1034.1 589.5,1041.1 589.5,1046.1C589.5,1050.1 587.5,1053.6 584.7,1054.9M586.9,1031.2C590.9,1032.2 595.4,1039.2 595.4,1044.2C595.4,1048.2 593.4,1051.7 590.6,1053.0M592.8,1029.3C596.8,1030.3 601.3,1037.3 601.3,1042.3C601.3,1046.3 599.3,1049.8 596.5,1051.1M598.7,1027.4C602.7,1028.4 607.2,1035.4 607.2,1040.4C607.2,1044.4 605.2,1047.9 602.4,1049.2M604.6,1025.5C608.6,1026.5 613.1,1033.5 613.1,1038.5C613.1,1042.5 611.1,1046.0 608.3,1047.3M610.5,1023.6C614.5,1024.6 619.0,1031.6 619.0,1036.6C619.0,1040.6 617.0,1044.1 614.2,1045.4M616.4,1021.7C620.4,1022.7 624.9,1029.7 624.9,1034.7C624.9,1038.7 622.9,1042.2 620.1,1043.5"/>
<path stroke-width="2" d="M620,1028.5L622.5,1034L621,1039"/>
<text class="n" x="568.7" y="1081.2" textLength="20" lengthAdjust="spacingAndGlyphs" style="font-size:22.5px">19</text>
<!-- bracket lower -->
<path stroke-width="1.8" d="M442.5,1257V1136.6L470.6,1127.2M442.5,1257L480,1244.4"/>
<path stroke-width="2.2" stroke-dasharray="1.5 6" d="M476,1123L492,1118"/>
<!-- spool bottom -->
<path stroke-width="1.6" d="M460,1249.5L477.6,1242.5"/>
<g transform="translate(481.2 1242) rotate(-19.7)">
<path stroke-width="2.6" d="M-7.5,5C-9,-6 -5,-16 0,-16C5,-16 8,-8 8,0C8,9 5,16 0,16C-3,16 -6,13 -7,10"/>
<path stroke-width="2" d="M-2,-8C2,-9 4,-4 4,1C4,6 2,9 -1,9"/>
<path stroke-width="2.2" d="M2,-18.5C8,-16.5 11,-9 11,0C11,9 8,16 4,18.5M6,-19C12,-16 15,-9 15,0C15,9 12,17 7,19.5"/>
<path stroke-width="2.4" d="M2,-19L48,-19M5,19.5L47,20.5"/>
<path stroke-width="2.2" d="M20,-19C26,-16 28,-8 28,0C28,9 26,16 22,20M26,-19C32,-16 34,-8 34,0C34,9 32,16 28,20.3"/>
<path stroke-width="2.4" d="M45,-19C51,-16 54,-8 54,0C54,9 51,16 47,20.5"/>
<path stroke-width="2.4" d="M52,-17.5L88,-17.5M53,16L88,16.7"/>
<path stroke-width="2.2" d="M86,-19.5C92,-16 95,-8 95,1C95,9 93,15 89,18.5M92,-19.5C98,-16 101,-8 101,1C101,9 99,15 95,18.8M104,-20C110,-16 113,-8 113,1C113,9 111,15 107,19M110,-20C116,-16 119,-8 119,1C119,9 117,15 113,19M124,-20C130,-16 133,-8 133,1C133,9 131,15 127,18.5M130,-19.5C136,-16 139,-8 139,1C139,9 137,15 133,18"/>
<path stroke-width="2.4" d="M86,-19.5L92,-19.5M101,-20L110,-20M119,-20L130,-19.5M89,18.5L95,18.8M101,19L113,19M119,18.5L127,18.5"/>
<path stroke-width="2.4" d="M139,-19L160,-16C166,-14 170,-7 170,0C170,7 168,12 165,14.5L136,17.5"/>
<path stroke-width="2.4" d="M171,-13.3L246,-12.1C250,-11 252,-6 252,-1C252,4 250,8 245,9.7L170,11.6"/>
<path stroke-width="2.4" d="M254,-10.6L284,-9C287,-8 289,-5 288.6,-2.7C288,1 286,4 283.9,6.1L253.7,7.2"/>
</g>
<path stroke-width="1.8" d="M740,1130V1140M736,1141C738,1144 742,1144 744,1141"/>
<!-- pin 9 -->
<path stroke-width="2.2" d="M736.5,1089C737,1086.5 744,1086 745,1088.5L745.6,1110C744,1112 738,1112 736.5,1110Z"/>
<path stroke-width="1.6" d="M739.5,1089V1110M739.4,1114.7V1130"/>
<text class="n" x="718" y="1110.2" textLength="10" lengthAdjust="spacingAndGlyphs" style="font-size:22px">9</text>
<!-- part 33 -->
<path stroke-width="1.6" d="M755,1142.8L766,1138.5"/>
<ellipse cx="773" cy="1134" rx="12.5" ry="20.5" transform="rotate(-12 773 1134)" stroke-width="2.6"/>
<path stroke-width="2.2" d="M767,1148C764,1140 765,1128 770,1122C774,1118 779,1119 781,1123"/>
<path stroke-width="2.4" d="M776,1113.5C784,1113 790,1122 792,1132C793,1141 790,1150 784,1154.5M784,1110C792,1111 798,1120 799,1130C800,1140 797,1148 791,1152M792,1108C799,1110 803.4,1118 803.4,1127C803.4,1137 800,1145 796,1149"/>
<text class="n" x="780.6" y="1175.8" textLength="22" lengthAdjust="spacingAndGlyphs" style="font-size:22.5px">33</text>
<!-- washer 4 -->
<path stroke-width="2.4" d="M790,1111C796,1115 800,1125 800,1134C800,1142 798,1147 795,1149"/>
<path stroke-width="2.6" d="M818,1089C830,1088 840.6,1102 840.6,1118C840.6,1133 833,1143 823,1142.2C812,1142 804,1130 804,1115C804,1100 810,1089.5 818,1089Z"/>
<path stroke-width="2.2" d="M820,1090.6C831,1095 837.8,1106 837.8,1116.9C837.8,1128 835,1135 831.25,1139.4"/>
<ellipse cx="820.5" cy="1116" rx="10" ry="16" transform="rotate(-8 820.5 1116)" stroke-width="2.4"/>
<path stroke-width="1.8" d="M815,1105C818,1101 823,1102 826,1108M813,1110V1122M817,1124L820,1129"/>
<path stroke-width="1.6" d="M804.7,1121L831,1113.5"/>
<text class="n" x="833" y="1159.7" textLength="11" lengthAdjust="spacingAndGlyphs" style="font-size:22.5px">4</text>
<!-- sleeve 7 -->
<path stroke-width="1.6" d="M844.4,1106.3L858,1101.75"/>
<ellipse cx="858" cy="1101.75" rx="10.2" ry="15.9" transform="rotate(-15 858 1101.75)" stroke-width="2.6"/>
<ellipse cx="859" cy="1101" rx="5" ry="9" transform="rotate(-15 859 1101)" stroke-width="2"/>
<path stroke-width="2.4" d="M855.7,1085L906.7,1065.5C914,1065 921.4,1073 921.4,1082C921.4,1090 919,1096 916.9,1098.4L867,1116.5"/>
<text class="n" x="887.5" y="1133.7" textLength="10" lengthAdjust="spacingAndGlyphs" style="font-size:21px">7</text>
<!-- spring 6 -->
<path stroke-width="1.6" d="M923.9,1077.3L935,1073.3M1013.75,1046.1L1020,1043.9"/>
<path stroke-width="2.2" d="M930.2,1081.2C931.1,1082.6 933.4,1087.2 935.6,1089.1C937.8,1090.9 940.8,1092.6 943.4,1092.2C946.0,1091.8 949.5,1089.8 951.2,1086.7C953.0,1083.6 954.0,1078.3 954.0,1073.4C954.0,1068.6 952.6,1061.7 951.2,1057.8C949.9,1053.9 947.7,1051.5 945.8,1050.0C943.8,1048.5 941.3,1048.0 939.5,1048.8C937.8,1049.6 936.1,1052.4 935.2,1054.7C934.4,1057.0 934.5,1060.2 934.5,1062.5C934.4,1064.8 934.8,1067.7 934.8,1068.8"/>
<path stroke-width="2.0" d="M938.8,1057.8C939.5,1058.1 942.0,1057.8 943.4,1059.4C944.9,1060.9 946.4,1064.1 947.3,1067.2C948.3,1070.3 949.7,1075.0 949.3,1078.1C948.9,1081.2 946.8,1084.8 945.0,1085.9C943.2,1087.1 940.4,1085.9 938.8,1085.2C937.1,1084.4 935.5,1081.9 934.8,1081.2"/>
<path stroke-width="2.2" d="M945.8,1046.1C946.6,1046.2 948.9,1045.3 950.5,1046.5C952.0,1047.7 953.8,1049.9 955.2,1053.1C956.5,1056.3 958.2,1061.2 958.7,1065.6C959.2,1070.1 958.7,1075.8 958.3,1079.7C957.8,1083.6 956.3,1087.5 955.9,1089.1"/>
<path stroke-width="2.2" d="M956.7,1043.0C957.5,1043.2 959.8,1042.8 961.4,1044.1C963.0,1045.4 964.7,1047.7 966.1,1050.8C967.5,1053.8 969.1,1058.2 969.6,1062.5C970.1,1066.8 969.7,1072.7 969.2,1076.6C968.8,1080.5 967.3,1084.4 966.9,1085.9"/>
<path stroke-width="2.2" d="M965.3,1039.8C966.1,1040.0 968.4,1039.7 970.0,1041.0C971.6,1042.3 973.6,1044.6 975.1,1047.7C976.6,1050.7 978.5,1055.1 979.0,1059.4C979.5,1063.7 978.9,1069.5 978.2,1073.4C977.5,1077.3 975.3,1081.2 974.7,1082.8"/>
<path stroke-width="2.2" d="M973.9,1037.1C974.7,1037.2 977.0,1036.8 978.6,1037.9C980.2,1039.0 981.9,1041.0 983.3,1043.8C984.6,1046.5 986.3,1050.4 986.8,1054.7C987.3,1059.0 987.0,1065.5 986.4,1069.5C985.8,1073.6 983.8,1077.3 983.3,1078.9"/>
<path stroke-width="2.2" d="M983.3,1033.6C984.1,1033.7 986.3,1032.9 988.0,1034.0C989.6,1035.0 991.5,1037.0 993.0,1039.8C994.6,1042.6 996.6,1046.5 997.3,1050.8C998.1,1055.1 998.1,1061.5 997.7,1065.6C997.3,1069.8 995.5,1074.1 995.0,1075.8"/>
<path stroke-width="2.0" d="M950.5,1053.1C951.2,1054.3 953.7,1057.3 954.8,1060.2C955.9,1063.0 956.7,1066.8 957.1,1070.3C957.6,1073.8 957.4,1079.4 957.5,1081.2"/>
<path stroke-width="2.0" d="M960.6,1050.0C961.4,1051.2 964.1,1054.2 965.3,1057.0C966.5,1059.9 967.5,1063.8 968.0,1067.2C968.6,1070.6 968.4,1075.7 968.4,1077.3"/>
<path stroke-width="2.0" d="M970.0,1047.7C970.8,1048.8 973.5,1052.0 974.7,1054.7C975.9,1057.4 976.9,1060.9 977.4,1064.1C977.9,1067.2 977.7,1071.9 977.8,1073.4"/>
<path stroke-width="2.0" d="M979.4,1043.0C980.2,1044.1 982.9,1047.1 984.1,1050.0C985.2,1052.9 986.0,1056.9 986.4,1060.2C986.8,1063.4 986.4,1068.0 986.4,1069.5"/>
<path stroke-width="2.0" d="M988.8,1039.8C989.5,1041.0 992.2,1044.1 993.4,1046.9C994.7,1049.6 995.7,1053.1 996.2,1056.2C996.7,1059.4 996.5,1064.1 996.6,1065.6"/>
<path stroke-width="2.4" d="M1003.6,1062.5C1003.4,1060.4 1002.4,1053.5 1002.4,1050.0C1002.5,1046.5 1003.1,1043.5 1004.0,1041.8C1004.8,1040.1 1006.3,1039.3 1007.5,1039.8C1008.7,1040.4 1010.2,1042.6 1011.0,1045.3C1011.9,1048.0 1012.6,1052.9 1012.6,1056.2C1012.5,1059.6 1011.9,1063.0 1010.6,1065.6C1009.4,1068.2 1006.1,1070.8 1005.2,1071.9"/>
<path stroke-width="1.6" d="M938,1076L940,1080M941,1075L943,1079"/>
<text class="n" x="975.8" y="1108.7" textLength="11.5" lengthAdjust="spacingAndGlyphs" style="font-size:23px">6</text>
<!-- cap 8 -->
<path stroke-width="1.6" d="M1014.3,1045.1L1030.1,1038.3M1063,1028L1065.3,1027"/>
<path stroke-width="2.4" d="M1032,1023.5C1036,1017 1042,1013.4 1048,1014C1056,1016 1060.7,1026 1060.7,1037C1060.7,1047 1056,1055 1050,1057.6C1046,1058.5 1042,1057 1039,1054"/>
<path stroke-width="2.2" d="M1041,1018C1049,1020 1053,1028 1054,1037C1054,1045 1051,1052 1046,1055"/>
<path stroke-width="2.4" d="M1031,1024C1026,1027 1023.4,1033 1024,1040C1025,1047 1030,1053 1036,1053"/>
<path stroke-width="1.8" d="M1030,1030C1034,1032 1036,1038 1034,1045"/>
<path stroke-width="1.2" stroke-dasharray="1 2.5" d="M1035,1022C1042,1025 1046,1033 1046,1042C1046,1046 1044,1050 1042,1052"/>
<text class="n" x="1042.7" y="1079.2" textLength="11.5" lengthAdjust="spacingAndGlyphs" style="font-size:22.5px">8</text>
<path stroke-width="1.8" d="M790,1032.6L822.85,1020.2"/>

<!--/LOW2-->
</g>
</svg>
</body></html>
